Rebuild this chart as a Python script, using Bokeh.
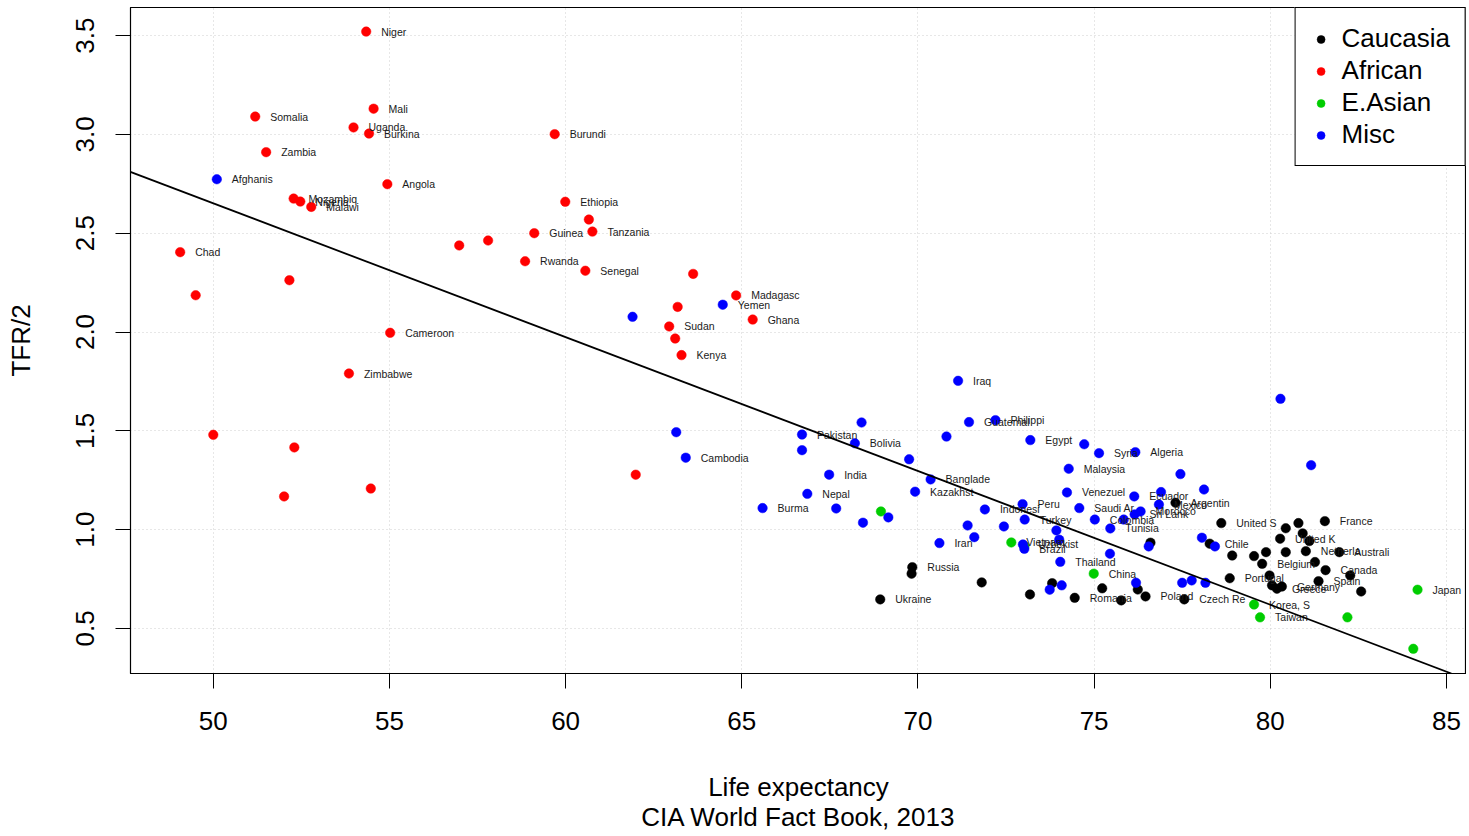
from bokeh.plotting import figure
from bokeh.models import (Range1d, Legend, LegendItem, FixedTicker,
                          ColumnDataSource, Slope)
from bokeh.core.properties import value
from bokeh.embed import file_html
from bokeh.resources import INLINE

FONT = "Liberation Sans"

# ---------------- data ----------------
caucasia_names = ["Ukraine", "Russia", "", "", "", "", "Romania", "", "", "", "Poland",
                  "Czech Re", "", "Argentin", "Chile", "United S", "", "Portugal", "",
                  "Belgium", "", "", "", "Greece", "Germany", "United K", "", "", "", "",
                  "", "Netherla", "France", "", "Canada", "Spain", "Australi", "", ""]
caucasia_life = [68.93, 69.84, 69.82, 71.81, 73.18, 73.81, 74.45, 75.23, 75.77, 76.24, 76.46,
                 77.56, 76.60, 77.31, 78.28, 78.61, 78.92, 78.85, 79.54,
                 79.77, 79.88, 79.98, 80.05, 80.19, 80.33, 80.28, 80.44, 80.44, 80.80, 80.92,
                 81.11, 81.01, 81.55, 81.27, 81.57, 81.37, 81.96, 82.27, 82.58]
caucasia_tfr = [0.647, 0.810, 0.777, 0.733, 0.672, 0.729, 0.655, 0.703, 0.642, 0.697, 0.662,
                0.647, 0.934, 1.136, 0.929, 1.033, 0.869, 0.754, 0.866,
                0.827, 0.886, 0.768, 0.718, 0.701, 0.712, 0.954, 1.007, 0.886, 1.033, 0.981,
                0.942, 0.891, 1.043, 0.836, 0.795, 0.739, 0.886, 0.768, 0.687]

african_names = ["Niger", "Mali", "Somalia", "Uganda", "Burkina", "Burundi", "Zambia", "Angola",
                 "Ethiopia", "Mozambiq", "Nigeria", "Malawi", "", "Tanzania", "Guinea", "Chad",
                 "", "", "Rwanda", "Senegal", "", "", "", "Madagasc", "", "Ghana", "Sudan",
                 "Cameroon", "", "Kenya", "Zimbabwe", "", "", "", "", ""]
african_life = [54.34, 54.55, 51.19, 53.98, 54.42, 59.69, 51.50, 54.94,
                59.99, 52.28, 52.47, 52.78, 60.66, 60.76, 59.11, 49.06,
                56.98, 57.80, 58.85, 60.56, 63.62, 52.16, 49.50, 64.84, 63.18, 65.31, 62.94,
                55.02, 63.11, 63.29, 53.85, 50.00, 52.30, 61.99, 54.47, 52.01]
african_tfr = [3.520, 3.130, 3.090, 3.035, 3.004, 3.001, 2.910, 2.748,
               2.659, 2.675, 2.660, 2.633, 2.569, 2.508, 2.500, 2.404,
               2.438, 2.463, 2.358, 2.310, 2.294, 2.262, 2.186, 2.185, 2.127, 2.063, 2.028,
               1.996, 1.967, 1.883, 1.790, 1.480, 1.416, 1.278, 1.208, 1.168]

easian_names = ["", "Vietnam", "", "China", "Korea, S", "Taiwan", "", "Japan", ""]
easian_life = [68.95, 72.65, 73.02, 74.99, 79.54, 79.71, 82.19, 84.18, 84.06]
easian_tfr = [1.092, 0.935, 0.916, 0.777, 0.621, 0.556, 0.556, 0.696, 0.397]

misc_names = ["Afghanis", "Yemen", "", "", "Cambodia", "Pakistan", "", "", "Bolivia", "",
              "India", "Nepal", "Burma", "", "", "", "Kazakhst", "Banglade", "Iraq",
              "Guatemal", "Philippi", "", "Egypt", "", "Syria", "Algeria", "Malaysia",
              "Venezuel", "Saudi Ar", "Peru", "Indonesi", "Turkey", "Colombia", "", "Tunisia",
              "Ecuador", "", "Mexico", "Morocco", "Sri Lank", "", "", "", "", "", "", "",
              "Iran", "Brazil", "Uzbekist", "", "", "Thailand", "", "", "", "", "", "", "",
              "", "", ""]
misc_life = [50.10, 64.46, 61.90, 63.14, 63.41, 66.71, 66.71, 68.40, 68.21, 69.75,
             67.48, 66.86, 65.59, 67.68, 69.16, 68.44, 69.92, 70.36, 71.14,
             71.45, 72.20, 70.81, 73.19, 74.72, 75.14, 76.17, 74.28,
             74.23, 74.58, 72.97, 71.90, 73.03, 75.02, 75.84, 75.46,
             76.14, 76.90, 76.84, 76.32, 76.15, 77.45, 78.12, 80.29, 81.16, 71.41, 72.44, 71.60,
             70.61, 73.02, 72.98, 73.93, 74.01, 74.04, 75.45, 73.74, 74.08, 76.19, 77.50, 77.77,
             78.16, 76.55, 78.06, 78.43]
misc_tfr = [2.773, 2.138, 2.077, 1.493, 1.364, 1.481, 1.402, 1.542, 1.437, 1.356,
            1.278, 1.181, 1.109, 1.107, 1.062, 1.035, 1.192, 1.254, 1.753,
            1.544, 1.554, 1.471, 1.453, 1.432, 1.387, 1.392, 1.308,
            1.188, 1.109, 1.129, 1.102, 1.051, 1.051, 1.051, 1.006,
            1.168, 1.190, 1.127, 1.092, 1.077, 1.281, 1.203, 1.662, 1.326, 1.021, 1.016, 0.962,
            0.932, 0.903, 0.925, 0.996, 0.949, 0.837, 0.878, 0.696, 0.718, 0.731, 0.731, 0.743,
            0.731, 0.915, 0.959, 0.915]

# fitted regression line TFR/2 ~ life expectancy
fit_intercept = 6.036
fit_slope = -0.0677

x_ticks = [50, 55, 60, 65, 70, 75, 80, 85]
y_ticks = [0.5, 1.0, 1.5, 2.0, 2.5, 3.0, 3.5]
y_tick_labels = ["0.5", "1.0", "1.5", "2.0", "2.5", "3.0", "3.5"]

groups = [
    ("Caucasia", "#000000", caucasia_names, caucasia_life, caucasia_tfr),
    ("African", "#FF0000", african_names, african_life, african_tfr),
    ("E.Asian", "#00CD00", easian_names, easian_life, easian_tfr),
    ("Misc", "#0000FF", misc_names, misc_life, misc_tfr),
]

# ---------------- figure ----------------
p = figure(width=1466, height=834, output_backend="svg", toolbar_location=None,
           x_range=Range1d(47.65, 85.57), y_range=Range1d(0.272, 3.642),
           min_border_left=130, min_border_right=0, min_border_top=7,
           min_border_bottom=161)
p.background_fill_color = "white"
p.border_fill_color = "white"
p.outline_line_color = "black"
p.outline_line_alpha = 1.0
p.outline_line_width = 1.2

for ax in (p.xaxis[0], p.yaxis[0]):
    ax.axis_line_color = "black"
    ax.major_tick_line_color = "black"
    ax.major_tick_in = 0
    ax.major_tick_out = 15
    ax.minor_tick_line_color = None
    ax.major_label_text_font = FONT
    ax.major_label_text_font_size = "26px"
    ax.major_label_text_color = "black"
    ax.axis_label_text_font = FONT
    ax.axis_label_text_font_size = "26px"
    ax.axis_label_text_font_style = "normal"
    ax.axis_label_text_color = "black"
    ax.axis_label_text_line_height = 1.0

p.xaxis.ticker = FixedTicker(ticks=x_ticks)
p.yaxis.ticker = FixedTicker(ticks=y_ticks)
p.yaxis.major_label_overrides = {t: l for t, l in zip(y_ticks, y_tick_labels)}
p.yaxis.major_label_orientation = "vertical"
p.xaxis.major_label_standoff = 23
p.yaxis.major_label_standoff = 21
p.xaxis.axis_label = "Life expectancy\nCIA World Fact Book, 2013"
p.yaxis.axis_label = "TFR/2"
p.xaxis.axis_label_standoff = 39
p.yaxis.axis_label_standoff = 38

for g in (p.xgrid[0], p.ygrid[0]):
    g.grid_line_color = "#cfcfcf"
    g.grid_line_dash = "1 3"
    g.grid_line_width = 1
p.xgrid.ticker = FixedTicker(ticks=x_ticks)
p.ygrid.ticker = FixedTicker(ticks=y_ticks)

items = []
lab_x, lab_y, lab_t = [], [], []
for name, color, names, life, tfr in groups:
    src = ColumnDataSource(dict(x=life, y=tfr, name=names))
    r = p.scatter("x", "y", source=src, size=9.5, fill_color=color, line_color=color,
                  line_width=0.5)
    items.append(LegendItem(label=name, renderers=[r]))
    for n, xv, yv in zip(names, life, tfr):
        if n:
            lab_x.append(xv); lab_y.append(yv); lab_t.append(n)

p.add_layout(Slope(gradient=fit_slope, y_intercept=fit_intercept, line_color="black",
                   line_width=1.8))

lab_src = ColumnDataSource(dict(x=lab_x, y=lab_y, t=lab_t))
p.text("x", "y", text="t", source=lab_src, x_offset=15, text_align="left",
       text_baseline="middle", text_font=value(FONT), text_font_size="10.5px",
       text_color="#1a1a1a")

legend = Legend(items=items, location="top_right")
legend.label_text_font = FONT
legend.label_text_font_size = "26px"
legend.label_text_color = "black"
legend.border_line_color = "black"
legend.border_line_alpha = 1.0
legend.border_line_width = 1.2
legend.background_fill_alpha = 1.0
legend.margin = 0
legend.padding = 15
legend.spacing = 1
legend.label_height = 30
legend.glyph_height = 30
legend.glyph_width = 20
legend.label_standoff = 11
p.add_layout(legend)

open("out.html", "w").write(file_html(p, INLINE))
